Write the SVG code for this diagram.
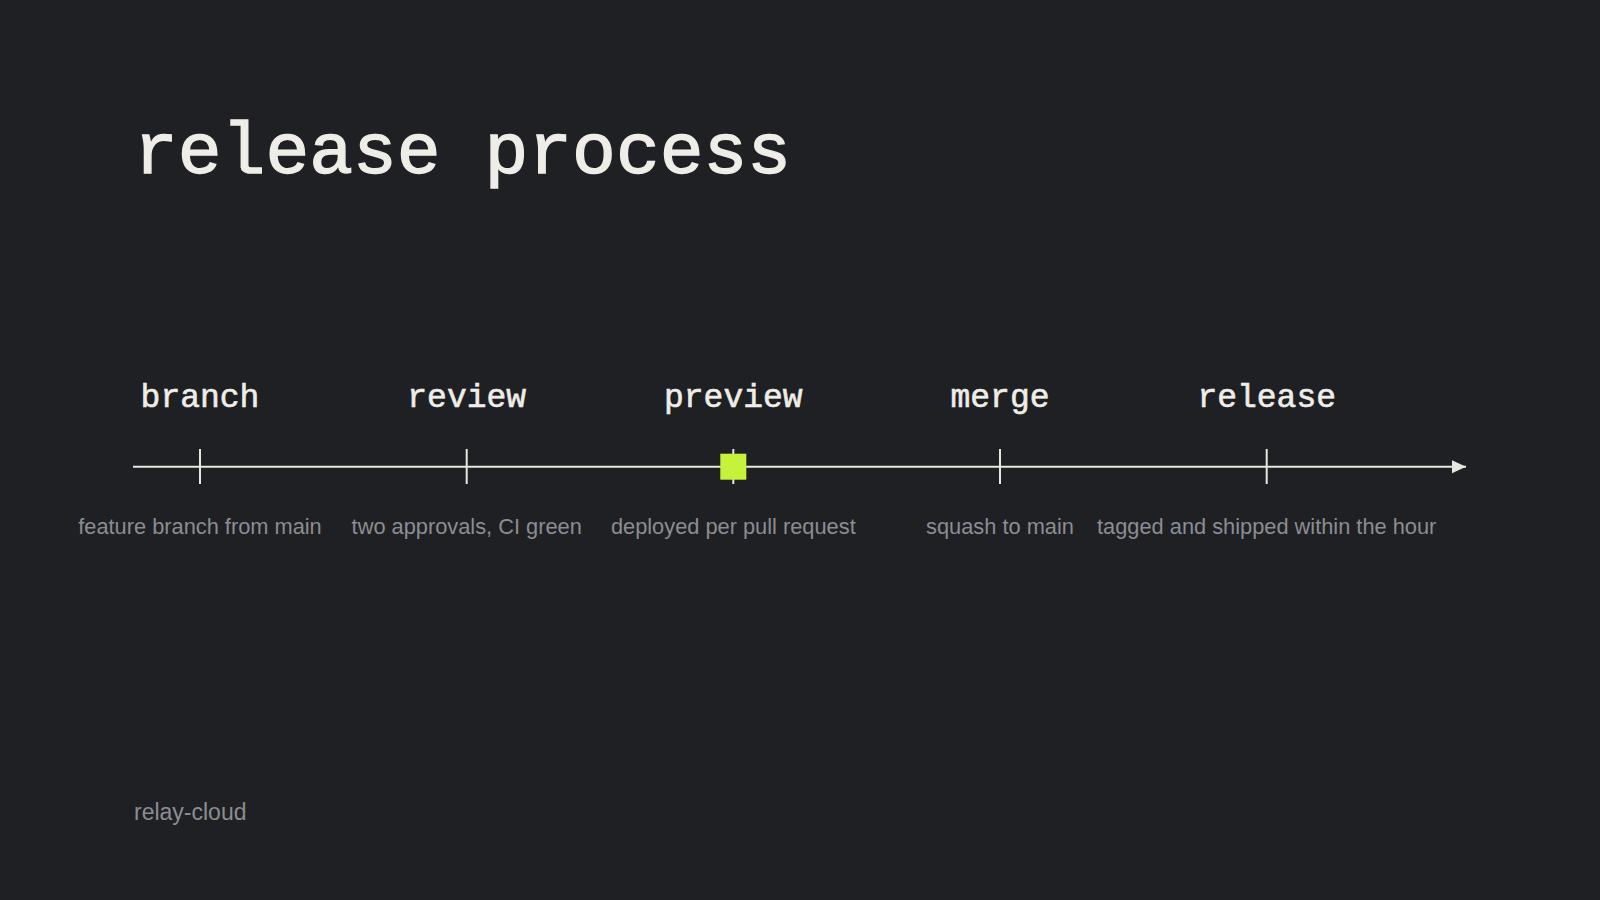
<svg xmlns="http://www.w3.org/2000/svg" width="1600" height="900" viewBox="0 0 1600 900">
<defs>
<style>
.title{font-family:"Liberation Mono","DejaVu Sans Mono",monospace;font-size:73px;fill:#efede7;stroke:#efede7;stroke-width:1.4px;}
.label{font-family:"Liberation Mono","DejaVu Sans Mono",monospace;font-size:33px;fill:#efede7;stroke:#efede7;stroke-width:0.6px;text-anchor:middle;}
.desc{font-family:"Liberation Sans","Noto Sans",sans-serif;font-size:21.8px;fill:#8b8d91;text-anchor:middle;}
.foot{font-family:"Liberation Sans","Noto Sans",sans-serif;font-size:23px;fill:#8b8d91;}
.axis{stroke:#e8e6e0;stroke-width:2;fill:none;}
.tick{stroke:#e8e6e0;stroke-width:2;}
</style>
<marker id="arrow" markerWidth="14" markerHeight="14" refX="14" refY="7" orient="auto" markerUnits="userSpaceOnUse">
<path d="M0,0.5 L14,7 L0,13.5 Z" fill="#e8e6e0"/>
</marker>
</defs>
<rect width="1600" height="900" fill="#1f2024"/>
<text class="title" x="134" y="173">release process</text>
<g id="connectors">
<line class="axis" x1="133" y1="466.7" x2="1466" y2="466.7" marker-end="url(#arrow)"/>
</g>
<g id="branch">
<line class="tick" x1="200" y1="449" x2="200" y2="484"/>
<text class="label" x="200" y="407">branch</text>
<text class="desc" x="200" y="534">feature branch from main</text>
</g>
<g id="review">
<line class="tick" x1="466.7" y1="449" x2="466.7" y2="484"/>
<text class="label" x="466.7" y="407">review</text>
<text class="desc" x="466.7" y="534">two approvals, CI green</text>
</g>
<g id="preview">
<line class="tick" x1="733.3" y1="449" x2="733.3" y2="484"/>
<rect x="720.3" y="453.7" width="26" height="26" fill="#c6f23b"/>
<text class="label" x="733.3" y="407">preview</text>
<text class="desc" x="733.3" y="534">deployed per pull request</text>
</g>
<g id="merge">
<line class="tick" x1="1000" y1="449" x2="1000" y2="484"/>
<text class="label" x="1000" y="407">merge</text>
<text class="desc" x="1000" y="534">squash to main</text>
</g>
<g id="release">
<line class="tick" x1="1266.7" y1="449" x2="1266.7" y2="484"/>
<text class="label" x="1266.7" y="407">release</text>
<text class="desc" x="1266.7" y="534">tagged and shipped within the hour</text>
</g>
<text class="foot" x="134" y="820">relay-cloud</text>
</svg>
